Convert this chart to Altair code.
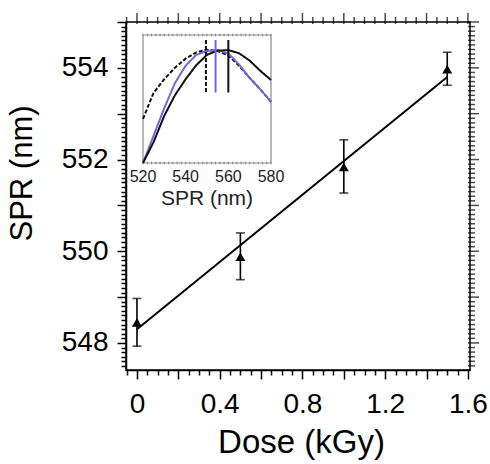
import altair as alt
import pandas as pd

# ---------------- main panel data ----------------
dose = [0.0, 0.5, 1.0, 1.5]
spr = [548.45, 549.88, 551.84, 553.97]
spr_lo = [547.93, 549.38, 551.27, 553.62]
spr_hi = [548.97, 550.40, 552.43, 554.34]
fit_dose = [0.0, 1.5]
fit_spr = [548.30, 553.80]

# ---------------- inset data (normalised spectra) ----------------
wl = [520, 525, 530, 535, 540, 545, 550, 555, 560, 565, 570, 575, 580]
abs_dashed = [0.345, 0.55, 0.655, 0.745, 0.815, 0.864, 0.885, 0.875, 0.84, 0.76, 0.665, 0.575, 0.478]
abs_purple = [0.0, 0.215, 0.43, 0.625, 0.76, 0.845, 0.875, 0.882, 0.855, 0.77, 0.665, 0.575, 0.478]
abs_black = [0.0, 0.165, 0.37, 0.53, 0.655, 0.765, 0.845, 0.878, 0.882, 0.858, 0.80, 0.72, 0.648]
series_names = ["dashed", "purple", "solid"]
peak_wl = [549.5, 554.0, 560.0]
peak_top = [0.96, 0.96, 0.96]
peak_bottom = [0.55, 0.55, 0.55]

# inset axis
inset_x_domain = [520, 580]
inset_y_domain = [0, 1]
inset_labels = [520, 540, 560, 580]
inset_title = "SPR (nm)"
inset_ticks = list(range(520, 581, 2))

# main axes
x_domain = [-0.053, 1.61]
y_domain = [547.41, 555.0]
x_ticks = [round(-0.05 + 0.05 * i, 2) for i in range(34)]
y_ticks = [round(547.5 + 0.1 * i, 1) for i in range(76)]
x_major = [v for v in x_ticks if abs(v * 5 - round(v * 5)) < 1e-6]
x_minor = [v for v in x_ticks if v not in x_major]
y_major = [v for v in y_ticks if abs(v - round(v)) < 1e-6]
y_minor = [v for v in y_ticks if v not in y_major]

main_df = pd.DataFrame({"dose": dose, "spr": spr, "lo": spr_lo, "hi": spr_hi})
fit_df = pd.DataFrame({"dose": fit_dose, "spr": fit_spr})
inset_df = pd.DataFrame({
    "wl": wl * 3,
    "val": abs_dashed + abs_purple + abs_black,
    "series": [series_names[0]] * len(wl) + [series_names[1]] * len(wl) + [series_names[2]] * len(wl),
})
peak_df = pd.DataFrame({"wl": peak_wl, "top": peak_top, "bot": peak_bottom, "series": series_names})
frame_df = pd.DataFrame({"x0": [inset_x_domain[0]], "x1": [inset_x_domain[1]],
                         "y0": [inset_y_domain[0]], "y1": [inset_y_domain[1]]})
ilabel_df = pd.DataFrame({"wl": inset_labels, "y": [inset_y_domain[0]] * len(inset_labels),
                          "txt": [str(v) for v in inset_labels]})
ititle_df = pd.DataFrame({"wl": [sum(inset_x_domain) / 2], "y": [inset_y_domain[0]], "txt": [inset_title]})
itick_df = pd.DataFrame({"wl": inset_ticks * 2,
                         "y": [inset_y_domain[0]] * len(inset_ticks) + [inset_y_domain[1]] * len(inset_ticks)})
top_major_df = pd.DataFrame({"x": x_major, "y": [y_domain[1]] * len(x_major)})
top_minor_df = pd.DataFrame({"x": x_minor, "y": [y_domain[1]] * len(x_minor)})
right_major_df = pd.DataFrame({"x": [x_domain[1]] * len(y_major), "y": y_major})
right_minor_df = pd.DataFrame({"x": [x_domain[1]] * len(y_minor), "y": y_minor})

W, H = 344, 348
FONT = "Liberation Sans"
MAJOR, MINOR = 9, 5

XMAIN = alt.Scale(domain=x_domain, nice=False, zero=False)
YMAIN = alt.Scale(domain=y_domain, nice=False, zero=False)
XIN = alt.Scale(domain=inset_x_domain, range=[17, 145], nice=False, zero=False)
YIN = alt.Scale(domain=inset_y_domain, range=[141, 13], nice=False, zero=False)

COLOR = alt.Color("series:N", legend=None,
                  scale=alt.Scale(domain=series_names, range=["#111111", "#7468d8", "#111111"]))
DASH = alt.StrokeDash("series:N", legend=None,
                      scale=alt.Scale(domain=series_names, range=[[4, 2], [1, 0], [1, 0]]))

X_IS_MAJOR = "abs(datum.value*5 - round(datum.value*5)) < 0.001"
Y_IS_MAJOR = "abs(datum.value - round(datum.value)) < 0.001"
X_TICKSIZE = {"condition": {"test": X_IS_MAJOR, "value": MAJOR}, "value": MINOR}
Y_TICKSIZE = {"condition": {"test": Y_IS_MAJOR, "value": MAJOR}, "value": MINOR}

COMMON = dict(offset=0, domain=True, domainColor="black", domainWidth=1.5, grid=False,
              tickColor="black", tickWidth=1.5, labelOverlap=False, labelFlush=False)

# ---------------- main layers ----------------
err_bars = alt.Chart(main_df).mark_rule(color="black", strokeWidth=1.6).encode(
    x=alt.X("dose:Q", scale=XMAIN, title="Dose (kGy)",
            axis=alt.Axis(orient="bottom", values=x_ticks, tickSize=X_TICKSIZE,
                          labelExpr="abs(datum.value*2.5 - round(datum.value*2.5)) < 0.001 ? format(datum.value, '.1~f') : ''",
                          labelFontSize=28, labelPadding=11, labelColor="black",
                          titleFontSize=33, titleFontWeight="normal", titleColor="black",
                          titleX=175, titleY=82, titleBaseline="alphabetic", **COMMON)),
    y=alt.Y("lo:Q", scale=YMAIN, title="SPR (nm)",
            axis=alt.Axis(orient="left", values=y_ticks, tickSize=Y_TICKSIZE,
                          labelExpr="(abs(datum.value - round(datum.value)) < 0.001 && round(datum.value) % 2 == 0) ? format(datum.value, 'd') : ''",
                          labelFontSize=28, labelPadding=9, labelColor="black",
                          titleFontSize=31, titleFontWeight="normal", titleColor="black",
                          titleAngle=270, titleX=-95, titleY=151, titleBaseline="alphabetic",
                          titleAlign="center", **COMMON)),
    y2="hi:Q",
)


def edge_ticks(df, orient, size):
    # mostly outward ticks (2 px reach inside the frame); clip explicitly disabled
    shift = size / 2 - 2
    if orient == "vertical":
        mk = alt.Chart(df).mark_tick(orient="vertical", size=size, thickness=1.5,
                                     color="black", clip=False, yOffset=-shift)
    else:
        mk = alt.Chart(df).mark_tick(orient="horizontal", size=size, thickness=1.5,
                                     color="black", clip=False, xOffset=shift)
    return mk.encode(
        x=alt.X("x:Q", scale=XMAIN, axis=None),
        y=alt.Y("y:Q", scale=YMAIN, axis=None),
    )


top_major = edge_ticks(top_major_df, "vertical", MAJOR + 2)
top_minor = edge_ticks(top_minor_df, "vertical", MINOR + 2)
right_major = edge_ticks(right_major_df, "horizontal", MAJOR + 2)
right_minor = edge_ticks(right_minor_df, "horizontal", MINOR + 2)

caps_hi = alt.Chart(main_df).mark_tick(orient="horizontal", size=9, thickness=1.6, color="black").encode(
    x=alt.X("dose:Q", scale=XMAIN, axis=None),
    y=alt.Y("hi:Q", scale=YMAIN, axis=None),
)

caps_lo = alt.Chart(main_df).mark_tick(orient="horizontal", size=9, thickness=1.6, color="black").encode(
    x=alt.X("dose:Q", scale=XMAIN, axis=None),
    y=alt.Y("lo:Q", scale=YMAIN, axis=None),
)

fit_line = alt.Chart(fit_df).mark_line(color="black", strokeWidth=2).encode(
    x=alt.X("dose:Q", scale=XMAIN, axis=None),
    y=alt.Y("spr:Q", scale=YMAIN, axis=None),
)

points = alt.Chart(main_df).mark_point(shape="triangle-up", filled=True, size=100,
                                       color="black", opacity=1).encode(
    x=alt.X("dose:Q", scale=XMAIN, axis=None),
    y=alt.Y("spr:Q", scale=YMAIN, axis=None),
)

# ---------------- inset layers (frame and labels drawn as marks) ----------------
inset_frame = alt.Chart(frame_df).mark_rect(fillOpacity=0, stroke="#8a8a8a", strokeWidth=1.2).encode(
    x=alt.X("x0:Q", scale=XIN, axis=None), x2="x1:Q",
    y=alt.Y("y0:Q", scale=YIN, axis=None), y2="y1:Q",
)

inset_tickmarks = alt.Chart(itick_df).mark_tick(orient="vertical", size=3, thickness=1, color="#777777").encode(
    x=alt.X("wl:Q", scale=XIN, axis=None),
    y=alt.Y("y:Q", scale=YIN, axis=None),
)

inset_curves = alt.Chart(inset_df).mark_line(strokeWidth=2).encode(
    x=alt.X("wl:Q", scale=XIN, axis=None),
    y=alt.Y("val:Q", scale=YIN, axis=None),
    color=COLOR,
    strokeDash=DASH,
)

inset_peaks = alt.Chart(peak_df).mark_rule(strokeWidth=2).encode(
    x=alt.X("wl:Q", scale=XIN, axis=None),
    y=alt.Y("top:Q", scale=YIN, axis=None),
    y2="bot:Q",
    color=COLOR,
    strokeDash=DASH,
)

inset_ticklabels = alt.Chart(ilabel_df).mark_text(font=FONT, fontSize=16, color="#222222",
                                                   baseline="alphabetic", align="center", dy=19).encode(
    x=alt.X("wl:Q", scale=XIN, axis=None),
    y=alt.Y("y:Q", scale=YIN, axis=None),
    text="txt:N",
)

inset_axis_title = alt.Chart(ititle_df).mark_text(font=FONT, fontSize=21, color="#222222",
                                                  baseline="alphabetic", align="center", dy=42).encode(
    x=alt.X("wl:Q", scale=XIN, axis=None),
    y=alt.Y("y:Q", scale=YIN, axis=None),
    text="txt:N",
)

chart = alt.layer(
    err_bars, top_major, top_minor, right_major, right_minor,
    inset_frame, inset_tickmarks, inset_curves, inset_peaks,
    inset_ticklabels, inset_axis_title, caps_hi, caps_lo, fit_line, points
).resolve_scale(
    x="independent", y="independent"
).properties(
    width=W, height=H, autosize="none",
    padding={"left": 126, "top": 22, "right": 20, "bottom": 94},
    background="white",
).configure_view(
    stroke="black", strokeWidth=1.5
).configure_axis(
    labelFont=FONT, titleFont=FONT
)

chart.save("out.html", embed_options={"renderer": "svg", "actions": False})
